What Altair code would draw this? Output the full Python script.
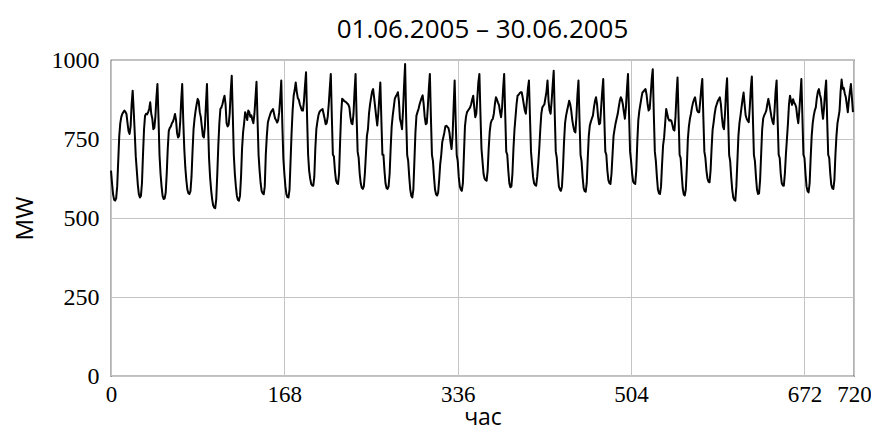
import altair as alt
import pandas as pd

# Hourly load (MW), one list of 24 values per day, 01.06.2005 .. 30.06.2005
day01 = [650, 610, 575, 558, 555, 562, 600, 680, 760, 800, 820, 830, 835, 840, 836, 829, 800, 775, 766, 790, 860, 903, 840, 770]
day02 = [695, 650, 605, 575, 565, 570, 610, 700, 780, 824, 830, 828, 835, 845, 866, 830, 815, 781, 785, 820, 880, 924, 820, 700]
day03 = [640, 600, 570, 560, 562, 580, 640, 720, 776, 785, 790, 800, 805, 815, 829, 810, 770, 755, 760, 800, 870, 924, 810, 720]
day04 = [660, 620, 590, 578, 576, 585, 630, 710, 781, 815, 840, 860, 877, 870, 835, 820, 790, 760, 755, 790, 860, 924, 800, 690]
day05 = [630, 590, 560, 540, 533, 531, 560, 640, 730, 800, 845, 850, 860, 875, 887, 860, 800, 790, 795, 830, 900, 950, 830, 700]
day06 = [640, 600, 570, 557, 555, 570, 630, 720, 771, 800, 835, 825, 810, 840, 835, 820, 825, 810, 800, 830, 880, 931, 810, 700]
day07 = [650, 610, 585, 578, 575, 600, 700, 760, 802, 815, 825, 835, 840, 845, 830, 815, 810, 802, 810, 835, 880, 935, 800, 690]
day08 = [640, 600, 575, 566, 565, 590, 680, 770, 840, 887, 905, 929, 900, 880, 874, 860, 850, 840, 840, 870, 920, 961, 820, 700]
day09 = [650, 625, 608, 603, 602, 630, 720, 781, 805, 825, 835, 840, 842, 845, 830, 815, 797, 800, 820, 860, 910, 956, 820, 700]
day10 = [695, 650, 620, 610, 608, 640, 740, 830, 877, 875, 870, 868, 866, 862, 859, 850, 820, 800, 797, 830, 900, 956, 820, 710]
day11 = [690, 640, 610, 596, 592, 600, 640, 700, 760, 781, 830, 859, 880, 900, 908, 880, 850, 820, 793, 830, 880, 929, 810, 700]
day12 = [700, 650, 610, 595, 592, 600, 640, 720, 790, 824, 850, 877, 885, 890, 898, 870, 814, 800, 781, 840, 920, 987, 820, 700]
day13 = [680, 630, 590, 570, 565, 590, 680, 770, 824, 835, 845, 859, 870, 880, 888, 860, 820, 797, 800, 850, 910, 956, 820, 700]
day14 = [680, 630, 590, 575, 571, 580, 620, 670, 699, 740, 755, 770, 790, 792, 788, 785, 770, 740, 718, 760, 850, 935, 810, 700]
day15 = [680, 630, 600, 590, 586, 610, 700, 790, 820, 835, 840, 845, 850, 860, 875, 887, 850, 819, 830, 880, 930, 956, 830, 720]
day16 = [680, 640, 625, 620, 618, 650, 720, 773, 800, 810, 814, 830, 860, 882, 875, 865, 857, 835, 819, 850, 910, 956, 830, 710]
day17 = [700, 650, 610, 597, 600, 640, 720, 780, 820, 860, 887, 890, 895, 898, 898, 880, 860, 840, 830, 870, 910, 935, 820, 710]
day18 = [670, 630, 610, 604, 602, 630, 670, 720, 780, 830, 850, 855, 860, 880, 900, 935, 870, 840, 830, 870, 920, 966, 830, 710]
day19 = [690, 640, 600, 590, 586, 600, 660, 740, 800, 824, 840, 855, 871, 860, 840, 810, 790, 775, 771, 820, 890, 935, 810, 700]
day20 = [680, 630, 595, 585, 583, 610, 690, 760, 793, 805, 815, 824, 850, 870, 882, 860, 820, 797, 800, 850, 900, 940, 820, 710]
day21 = [700, 650, 620, 610, 608, 640, 700, 760, 781, 800, 815, 829, 850, 870, 882, 875, 860, 835, 814, 850, 910, 956, 830, 710]
day22 = [680, 640, 615, 610, 608, 650, 740, 810, 840, 860, 880, 897, 900, 905, 908, 890, 860, 840, 845, 890, 940, 971, 830, 710]
day23 = [680, 630, 590, 578, 576, 600, 670, 730, 755, 800, 845, 830, 815, 808, 810, 808, 795, 780, 777, 820, 890, 945, 820, 700]
day24 = [690, 640, 595, 575, 571, 590, 660, 750, 790, 814, 830, 850, 865, 875, 882, 860, 840, 835, 835, 870, 910, 940, 820, 710]
day25 = [690, 650, 625, 615, 613, 650, 720, 780, 803, 830, 850, 860, 870, 876, 882, 860, 820, 790, 781, 830, 900, 942, 820, 700]
day26 = [680, 630, 590, 565, 557, 555, 600, 680, 760, 800, 824, 850, 875, 897, 860, 825, 814, 808, 803, 850, 910, 948, 820, 700]
day27 = [680, 630, 590, 576, 578, 620, 700, 780, 815, 825, 832, 840, 860, 877, 860, 840, 820, 805, 797, 840, 900, 935, 810, 700]
day28 = [690, 640, 610, 603, 602, 640, 700, 750, 800, 860, 887, 870, 858, 876, 865, 860, 850, 820, 800, 840, 890, 940, 820, 700]
day29 = [690, 640, 600, 585, 581, 610, 690, 760, 800, 824, 840, 850, 880, 900, 908, 890, 877, 840, 814, 850, 900, 935, 810, 700]
day30 = [690, 640, 605, 594, 592, 620, 700, 760, 800, 819, 840, 900, 938, 909, 912, 895, 883, 860, 835, 871, 900, 924, 880, 835]

days = [day01, day02, day03, day04, day05, day06, day07, day08, day09, day10,
        day11, day12, day13, day14, day15, day16, day17, day18, day19, day20,
        day21, day22, day23, day24, day25, day26, day27, day28, day29, day30]

x_ticks = [0, 168, 336, 504, 672, 720]
y_ticks = [0, 250, 500, 750, 1000]
title_text = "01.06.2005 – 30.06.2005"
x_title = "час"
y_title = "MW"

loads = [v for d in days for v in d]
df = pd.DataFrame({"hour": list(range(len(loads))), "MW": loads})

SERIF = "Liberation Serif"
SANS = "Open Sans"

chart = alt.Chart(df).mark_line(
    color="black", strokeWidth=2, strokeJoin="round"
).encode(
    x=alt.X("hour:Q",
            scale=alt.Scale(domain=[0, 720], nice=False, zero=False),
            axis=alt.Axis(values=x_ticks, title=x_title, grid=True, gridColor="#c4c4c4",
                          gridWidth=1, domain=False, ticks=False, labelFont=SERIF,
                          labelFontSize=23, labelColor="black", labelPadding=7,
                          titleFont=SANS, titleFontSize=23, titleFontWeight="normal",
                          titleColor="black", titlePadding=0, labelFlush=False,
                          format="d")),
    y=alt.Y("MW:Q",
            scale=alt.Scale(domain=[0, 1000], nice=False),
            axis=alt.Axis(values=y_ticks, title=y_title, grid=True, gridColor="#c4c4c4",
                          gridWidth=1, domain=False, ticks=False, labelFont=SERIF,
                          labelFontSize=24, labelColor="black", labelPadding=12,
                          titleFont=SANS, titleFontSize=24, titleFontWeight="normal",
                          titleColor="black", titlePadding=14, format="d")),
).properties(
    width=743, height=316,
    title=alt.Title(title_text, font=SANS, fontSize=26, fontWeight="normal",
                    color="black", offset=5),
    autosize=alt.AutoSizeParams(type="none"),
    padding={"left": 103, "top": 52, "right": 17, "bottom": 57},
).configure_view(stroke="black", strokeWidth=1.2)

chart.save("out.html", embed_options={"renderer": "svg", "actions": False})
